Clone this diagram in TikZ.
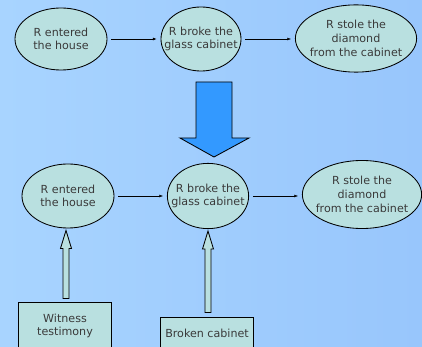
\documentclass[tikz,border=0pt]{standalone}
\usepackage{fontspec}
\setmainfont{DejaVu Sans}
\usetikzlibrary{shapes.geometric,arrows.meta,calc}
\definecolor{bgleft}{HTML}{A8D4FF}
\definecolor{bgright}{HTML}{98C6FC}
\definecolor{cyanfill}{HTML}{B9E0E0}
\definecolor{bigblue}{HTML}{3399FF}
\definecolor{textgray}{HTML}{3A3A3A}
\begin{document}
\begin{tikzpicture}
    [
    x = 0.025cm, y = -0.025cm,
    every node/.style = {font = \fontsize{7.9}{9.7}\selectfont, text = textgray},
    ]
    \tikzstyle{event node}=[ellipse,draw,line width=0.6pt,fill=cyanfill,inner sep=0]
    \tikzstyle{event text}=[align=center,inner sep=0]
    \tikzstyle{evidence node}=[rectangle,draw,line width=0.6pt,fill=cyanfill,align=center,minimum width=2.33cm]
    \tikzstyle{link}=[-{Latex[length=2.6pt,width=2pt]},line width=0.35pt,shorten >=2.8pt,shorten <=2.8pt]
    \tikzstyle{hollow arrow}=[draw,line width=0.6pt,fill=cyanfill,line join=miter]

    \clip (0,0) rectangle (422,347);
    \shade[left color=bgleft,right color=bgright] (0,0) rectangle (422,347);

    % top row
    \node[event node, minimum width=2.3cm, minimum height=1.55cm,
        label={[event text]center:R entered\\the house}] (a1) at (61,39) {};
    \node[event node, minimum width=2.0cm, minimum height=1.6cm,
        label={[event text]center:R broke the\\glass cabinet}] (a2) at (201,39) {};
    \node[event node, minimum width=3.03cm, minimum height=1.68cm,
        label={[event text]center:R stole the\\diamond\\from the cabinet}] (a3) at (356,38.5) {};
    \draw[link] (a1) -- (a2);
    \draw[link] (a2.east) -- (a2.east -| a3.west);

    % big arrow
    \draw[fill=bigblue,line width=0.6pt] (196,82) -- (232,82) -- (232,138) -- (249,138)
        -- (214,157) -- (180,138) -- (196,138) -- cycle;

    % bottom row
    \node[event node, minimum width=2.3cm, minimum height=1.6cm,
        label={[event text]center:R entered\\the house}] (b1) at (68,196) {};
    \node[event node, minimum width=2.03cm, minimum height=1.63cm,
        label={[event text]center:R broke the\\glass cabinet}] (b2) at (208,196) {};
    \node[event node, minimum width=2.98cm, minimum height=1.7cm,
        label={[event text]center:R stole the\\diamond\\from the cabinet}] (b3) at (362,194.5) {};
    \draw[link] (b1) -- (b2);
    \draw[link] (b2.east) -- (b2.east -| b3.west);

    % evidence
    \node[evidence node, minimum height=1.2cm] (w1) at (65,326) {Witness\\testimony};
    \node[evidence node, minimum height=0.8cm] (w2) at (207,333) {Broken cabinet};

    \draw[hollow arrow] let \p1 = ($(w1.north)+(1,-3)$), \p2 = ($(b1.south)+(0,2)$) in
        ($(\x1,\y1)+(-3,0)$) -- ($(\x1,\y2)+(-3,18)$) -- ($(\x1,\y2)+(-5.5,18)$) -- (\x1,\y2)
        -- ($(\x1,\y2)+(5.5,18)$) -- ($(\x1,\y2)+(3,18)$) -- ($(\x1,\y1)+(3,0)$) -- cycle;
    \draw[hollow arrow] let \p1 = ($(w2.north)+(1,-4)$), \p2 = ($(b2.south)+(0,2)$) in
        ($(\x1,\y1)+(-3,0)$) -- ($(\x1,\y2)+(-3,18)$) -- ($(\x1,\y2)+(-5.5,18)$) -- (\x1,\y2)
        -- ($(\x1,\y2)+(5.5,18)$) -- ($(\x1,\y2)+(3,18)$) -- ($(\x1,\y1)+(3,0)$) -- cycle;
\end{tikzpicture}
\end{document}
